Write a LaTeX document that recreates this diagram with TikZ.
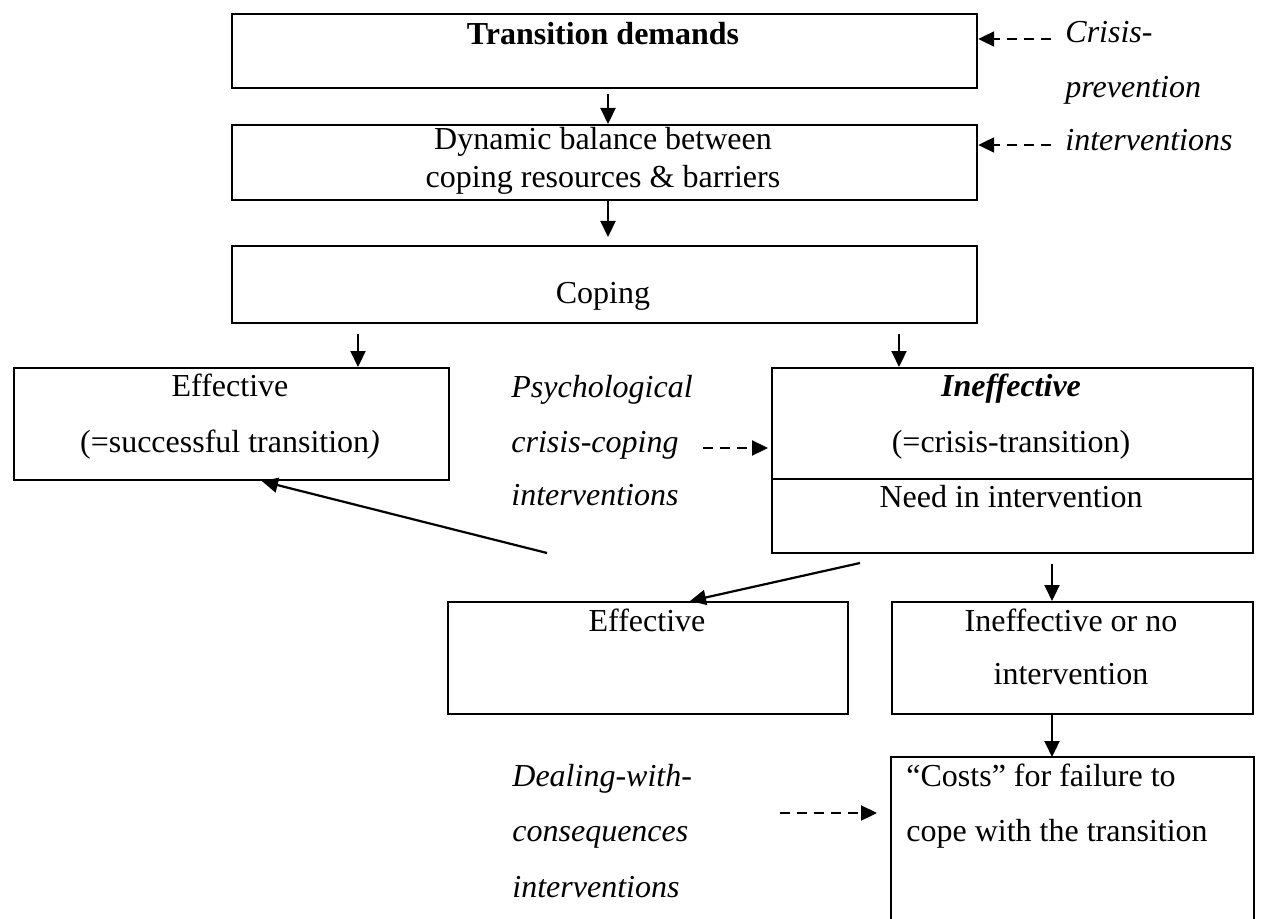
\documentclass[tikz,border=0pt]{standalone}
\usepackage{fontspec}
\setmainfont{Liberation Serif}
\usetikzlibrary{arrows.meta}
\tikzset{
  box/.style={draw, line width=1.1pt, inner sep=0pt, anchor=north west},
  txt/.style={inner sep=0pt, anchor=base, font=\fontsize{16}{19}\selectfont},
  ltxt/.style={txt, anchor=base west},
  arr/.style={line width=1.1pt, -{Triangle[length=8pt,width=7.5pt]}},
  dasharr/.style={arr, dash pattern=on 5pt off 3.5pt},
}
\begin{document}
\begin{tikzpicture}[x=0.5pt, y=-0.5pt]
  \useasboundingbox (0,0) rectangle (1261,919);

  \node[box, minimum width=372.5pt, minimum height=37pt] (demands) at (231,13) {};
  \node[box, minimum width=372.5pt, minimum height=37.5pt] (balance) at (231,124) {};
  \node[box, minimum width=372.5pt, minimum height=38.5pt] (coping) at (231,245) {};
  \node[box, minimum width=217.5pt, minimum height=56pt] (effL) at (13,367) {};
  \node[box, minimum width=240.5pt, minimum height=92.5pt] (ineff) at (771,367) {};
  \draw[line width=1.1pt] (ineff.west |- 0,479) -- (ineff.east |- 0,479);
  \node[box, minimum width=200pt, minimum height=56pt] (effM) at (447,601) {};
  \node[box, minimum width=180.5pt, minimum height=56pt] (ineffno) at (891,601) {};
  \node[box, draw=none, minimum width=180.5pt, minimum height=82pt] (costs) at (891,757) {};
  \draw[line width=1.1pt] (costs.south west) -- (costs.north west) -- (costs.north east) -- (costs.south east);

  \node[txt] (t-demands) at (603,45) {\bfseries Transition demands};
  \node[txt] (t-bal1) at (603,150) {Dynamic balance between};
  \node[txt] (t-bal2) at (603,188) {coping resources \& barriers};
  \node[txt] (t-coping) at (603,303) {Coping};
  \node[txt] (t-effL1) at (230,396) {Effective};
  \node[txt] (t-effL2) at (230,452) {(=successful transition\textit{)}};
  \node[txt] (t-ineff1) at (1011,396) {\bfseries\itshape Ineffective};
  \node[txt] (t-ineff2) at (1011,452) {(=crisis-transition)};
  \node[txt] (t-need) at (1011,507) {Need in intervention};
  \node[txt] (t-effM) at (647,631) {Effective};
  \node[txt] (t-no1) at (1071,631) {Ineffective or no};
  \node[txt] (t-no2) at (1071,684) {intervention};
  \node[ltxt] (t-costs1) at (906,786) {“Costs” for failure to};
  \node[ltxt] (t-costs2) at (906,841) {cope with the transition};

  \node[ltxt] (t-cp1) at (1065,43) {\itshape Crisis-};
  \node[ltxt] (t-cp2) at (1065,98) {\itshape prevention};
  \node[ltxt] (t-cp3) at (1065,151) {\itshape interventions};
  \node[ltxt] (t-pc1) at (511,397) {\itshape Psychological};
  \node[ltxt] (t-pc2) at (511,452) {\itshape crisis-coping};
  \node[ltxt] (t-pc3) at (511,505) {\itshape interventions};
  \node[ltxt] (t-dc1) at (512,786) {\itshape Dealing-with-};
  \node[ltxt] (t-dc2) at (512,841) {\itshape consequences};
  \node[ltxt] (t-dc3) at (512,897) {\itshape interventions};

  \draw[arr, shorten <=2.5pt] (demands.south -| 608,0) -- (balance.north -| 608,0);
  \draw[arr, shorten >=4pt] (balance.south -| 608,0) -- (coping.north -| 608,0);
  \draw[arr, shorten <=5pt] (coping.south -| 358,0) -- (effL.north -| 358,0);
  \draw[arr, shorten <=5pt] (coping.south -| 899,0) -- (ineff.north -| 899,0);
  \draw[arr, shorten <=5pt] (ineff.south -| 1052,0) -- (ineffno.north -| 1052,0);
  \draw[arr] (ineffno.south -| 1052,0) -- (costs.north -| 1052,0);

  \coordinate (back) at (547,553);
  \draw[arr] (back) -- (effL.south -| 262,0);
  \coordinate (fork) at (860,563);
  \draw[arr] (fork) -- (effM.north -| 690,0);

  \coordinate (cp-a) at (1051,39);
  \draw[dasharr] (cp-a) -- (demands.east |- cp-a);
  \coordinate (cp-b) at (1051,145);
  \draw[dasharr] (cp-b) -- (balance.east |- cp-b);
  \coordinate (pc) at (703,448);
  \draw[dasharr, shorten >=1.5pt] (pc) -- (ineff.west |- pc);
  \coordinate (dc) at (780,813);
  \draw[dasharr, shorten >=7pt] (dc) -- (costs.west |- dc);
\end{tikzpicture}
\end{document}
